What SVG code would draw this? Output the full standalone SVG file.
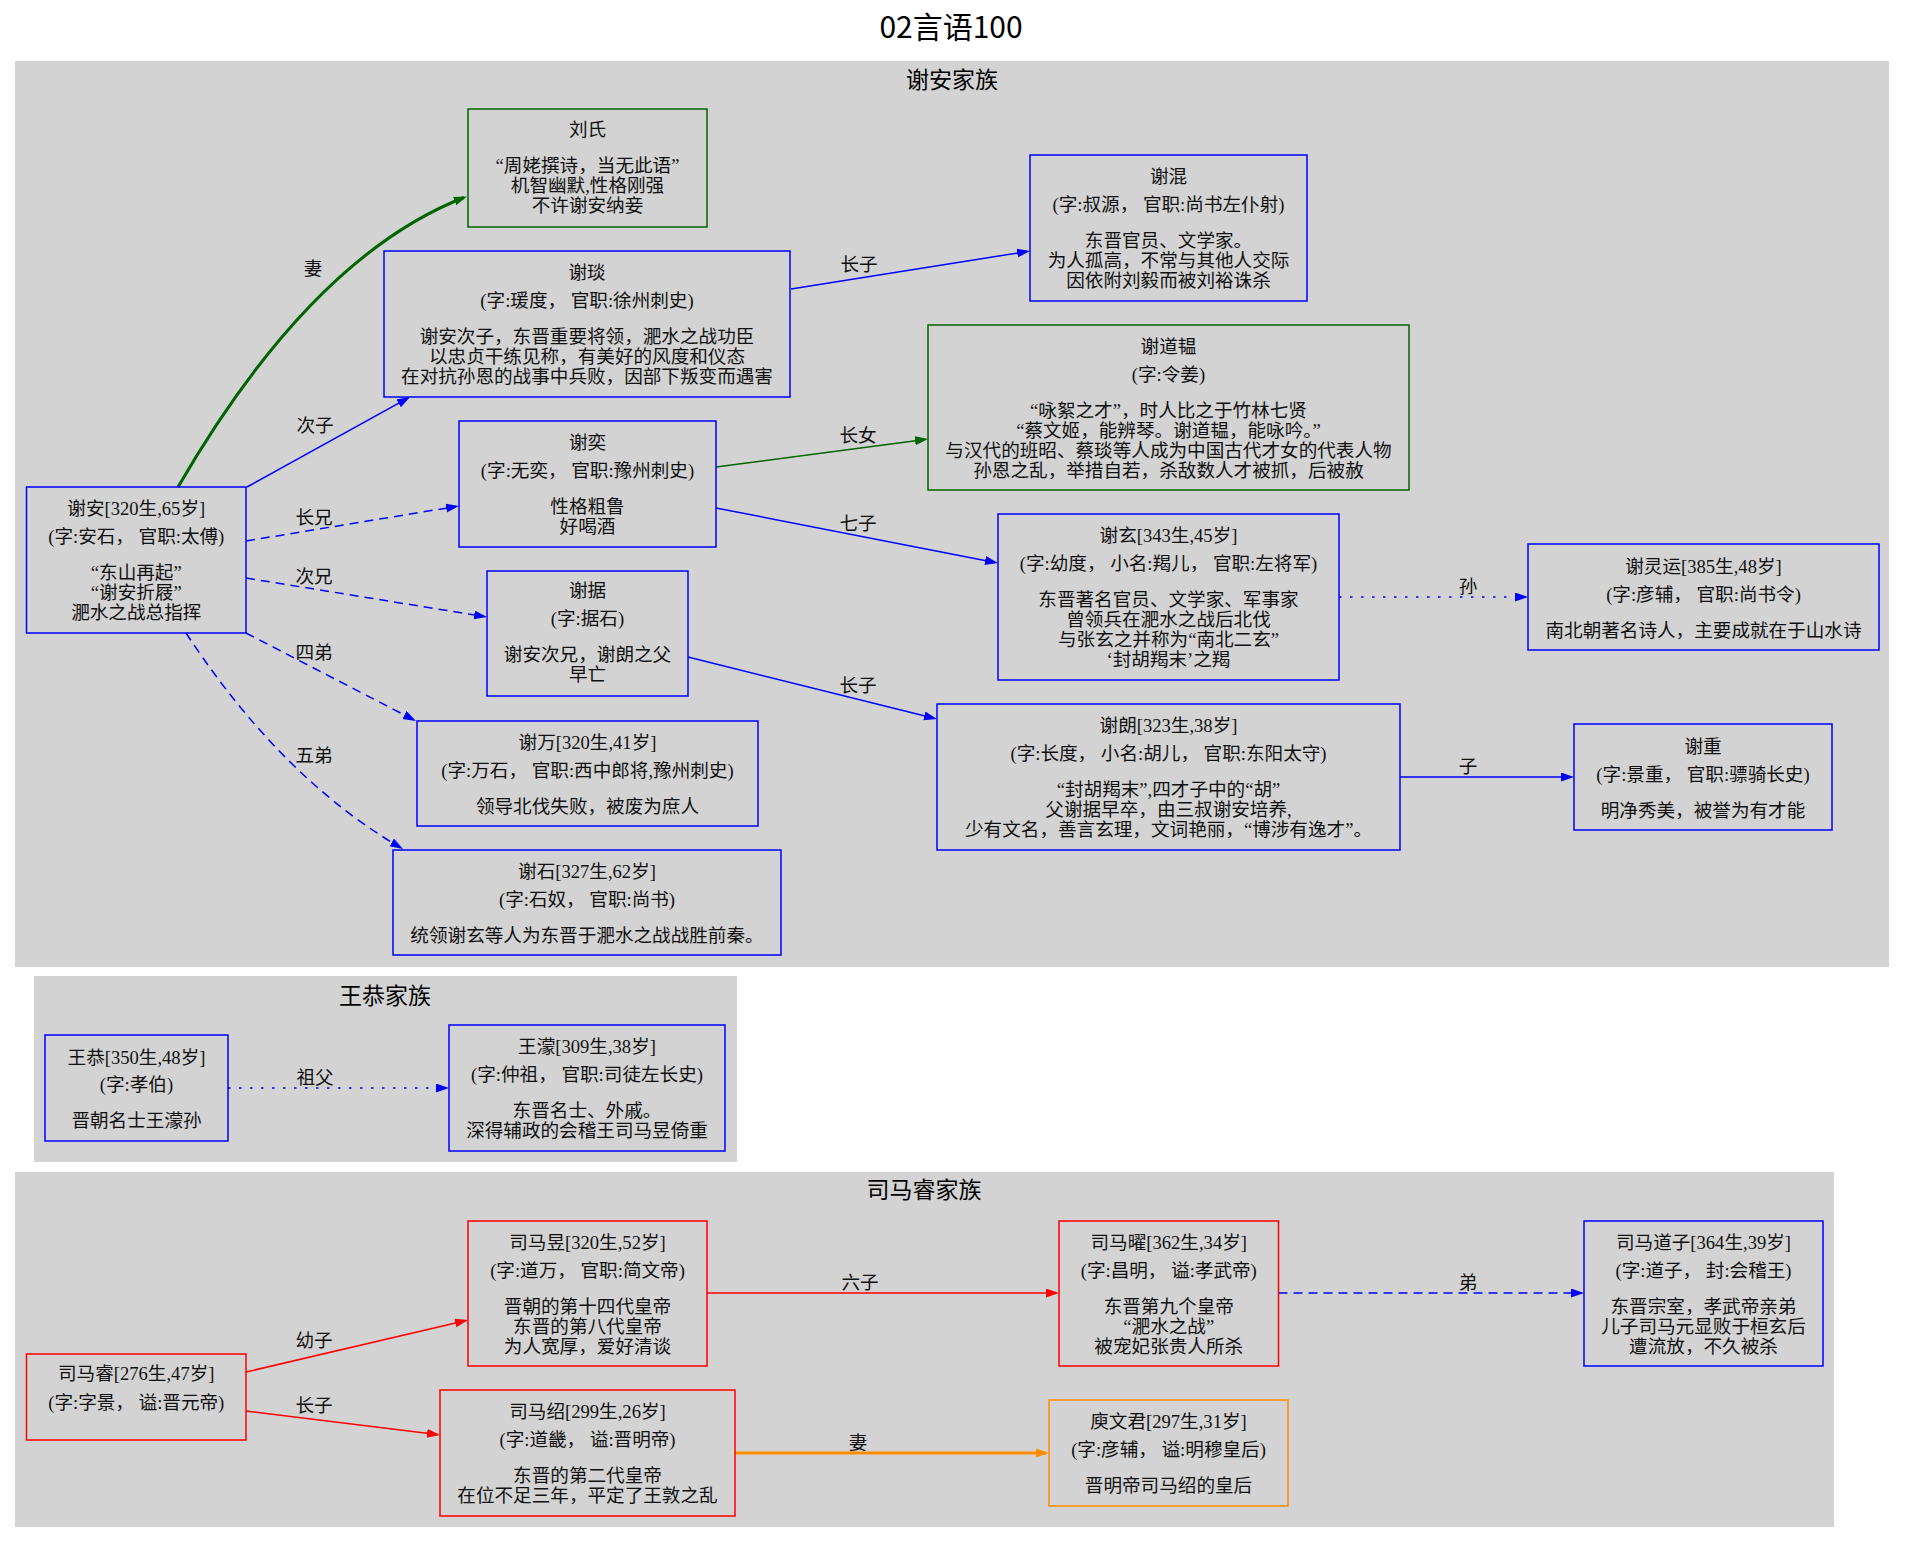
<svg xmlns="http://www.w3.org/2000/svg" width="1905" height="1543" viewBox="0 0 1905 1543">
<style>
.bg{fill:#ffffff}
.cl{fill:#d3d3d3;stroke:none}
.title{font-family:"Noto Sans CJK SC","DejaVu Sans",sans-serif;font-size:30px;fill:#000;text-anchor:middle;dominant-baseline:central}
.clt{font-family:"Noto Sans CJK SC","DejaVu Sans",sans-serif;font-size:23px;fill:#000;text-anchor:middle;dominant-baseline:central}
.n{fill:none;stroke-width:1.5}
.nb{stroke:#0000ff}.ng{stroke:#006400}.nr{stroke:#ff0000}.no{stroke:#ff8c00}
.t{font-family:"Liberation Serif","Noto Sans CJK SC",serif;font-size:18.6px;fill:#111;text-anchor:middle;dominant-baseline:central}
.e{fill:none;stroke-width:1.5}
.eb{stroke:#0000ff}.eg{stroke:#006400}.er{stroke:#ff0000}.eo{stroke:#ff8c00}
.thick{stroke-width:3}
.dash{stroke-dasharray:9,6}
.dot{stroke-dasharray:2.5,8.5}
.lbl{font-family:"Liberation Serif","Noto Sans CJK SC",serif;font-size:18.6px;fill:#111;text-anchor:middle;dominant-baseline:central}
</style>
<defs>
<marker id="ab" markerUnits="userSpaceOnUse" markerWidth="14" markerHeight="10" refX="10" refY="4.5" orient="auto"><path d="M0,0 L13,4.5 L0,9 z" fill="#0000ff"/></marker>
<marker id="ag" markerUnits="userSpaceOnUse" markerWidth="14" markerHeight="10" refX="10" refY="4.5" orient="auto"><path d="M0,0 L13,4.5 L0,9 z" fill="#006400"/></marker>
<marker id="ar" markerUnits="userSpaceOnUse" markerWidth="14" markerHeight="10" refX="10" refY="4.5" orient="auto"><path d="M0,0 L13,4.5 L0,9 z" fill="#ff0000"/></marker>
<marker id="ao" markerUnits="userSpaceOnUse" markerWidth="14" markerHeight="10" refX="10" refY="4.5" orient="auto"><path d="M0,0 L13,4.5 L0,9 z" fill="#ff8c00"/></marker>
</defs>
<rect class="bg" x="0" y="0" width="1905" height="1543"/>
<text class="title" x="951" y="25">02言语100</text>

<g id="cluster_xie">
<rect class="cl" x="15" y="61" width="1874" height="906"/>
<text class="clt" x="952" y="78">谢安家族</text>
</g>
<g id="cluster_wang">
<rect class="cl" x="34" y="976" width="703" height="186"/>
<text class="clt" x="385" y="994">王恭家族</text>
</g>
<g id="cluster_sima">
<rect class="cl" x="15" y="1172" width="1819" height="355"/>
<text class="clt" x="924" y="1188">司马睿家族</text>
</g>

<g id="edges">
<path class="e eg thick" d="M178,487 C240,380 335,248 464,197.5" marker-end="url(#ag)"/>
<text class="lbl" x="313" y="268">妻</text>
<path class="e eb" d="M247,487 L407.4,398.4" marker-end="url(#ab)"/>
<text class="lbl" x="315" y="425">次子</text>
<path class="e eb dash" d="M246,541 L456,506.5" marker-end="url(#ab)"/>
<text class="lbl" x="314" y="517">长兄</text>
<path class="e eb dash" d="M246,578 L484,616.5" marker-end="url(#ab)"/>
<text class="lbl" x="314" y="576">次兄</text>
<path class="e eb dash" d="M246,633 L413.3,719.6" marker-end="url(#ab)"/>
<text class="lbl" x="314" y="652">四弟</text>
<path class="e eb dash" d="M186,633 C230,700 300,789 400.4,847.5" marker-end="url(#ab)"/>
<text class="lbl" x="314" y="755">五弟</text>
<path class="e eb" d="M791,289 L1027,251.5" marker-end="url(#ab)"/>
<text class="lbl" x="859" y="264">长子</text>
<path class="e eg" d="M716,467 L925,439.4" marker-end="url(#ag)"/>
<text class="lbl" x="858" y="435">长女</text>
<path class="e eb" d="M716,508 L995,562.4" marker-end="url(#ab)"/>
<text class="lbl" x="858" y="523">七子</text>
<path class="e eb" d="M688,657 L934.1,718.3" marker-end="url(#ab)"/>
<text class="lbl" x="858" y="685">长子</text>
<path class="e eb dot" d="M1339,597 L1525,597" marker-end="url(#ab)"/>
<text class="lbl" x="1468" y="586">孙</text>
<path class="e eb" d="M1400,777 L1571,777" marker-end="url(#ab)"/>
<text class="lbl" x="1468" y="766">子</text>
<path class="e eb dot" d="M228,1088 L446,1088" marker-end="url(#ab)"/>
<text class="lbl" x="315" y="1077">祖父</text>
<path class="e er" d="M246,1372 L465.1,1320.7" marker-end="url(#ar)"/>
<text class="lbl" x="314" y="1340">幼子</text>
<path class="e er" d="M246,1411 L437,1434.6" marker-end="url(#ar)"/>
<text class="lbl" x="314" y="1405">长子</text>
<path class="e er" d="M707,1293 L1056,1293" marker-end="url(#ar)"/>
<text class="lbl" x="860" y="1282">六子</text>
<path class="e eb dash" d="M1278.5,1293 L1581,1293" marker-end="url(#ab)"/>
<text class="lbl" x="1468" y="1282">弟</text>
<path class="e eo thick" d="M735,1453 L1046,1453" marker-end="url(#ao)"/>
<text class="lbl" x="858" y="1442">妻</text>
</g>

<g id="xiean">
<rect class="n nb" x="26.5" y="487" width="219.5" height="146"/>
<text class="t"><tspan x="136.25" y="508">谢安[320生,65岁]</tspan><tspan x="136.25" y="536">(字:安石， 官职:太傅)</tspan><tspan x="136.25" y="572">“东山再起”</tspan><tspan x="136.25" y="592">“谢安折屐”</tspan><tspan x="136.25" y="612">淝水之战总指挥</tspan></text>
</g>
<g id="liushi">
<rect class="n ng" x="468" y="109" width="239" height="118"/>
<text class="t"><tspan x="587.5" y="129">刘氏</tspan><tspan x="587.5" y="165">“周姥撰诗，当无此语”</tspan><tspan x="587.5" y="185">机智幽默,性格刚强</tspan><tspan x="587.5" y="205">不许谢安纳妾</tspan></text>
</g>
<g id="xieyan">
<rect class="n nb" x="384" y="251" width="406" height="146"/>
<text class="t"><tspan x="587" y="272">谢琰</tspan><tspan x="587" y="300">(字:瑗度， 官职:徐州刺史)</tspan><tspan x="587" y="336">谢安次子，东晋重要将领，淝水之战功臣</tspan><tspan x="587" y="356">以忠贞干练见称，有美好的风度和仪态</tspan><tspan x="587" y="376">在对抗孙恩的战事中兵败，因部下叛变而遇害</tspan></text>
</g>
<g id="xieyi">
<rect class="n nb" x="459" y="421" width="257" height="126"/>
<text class="t"><tspan x="587.5" y="442">谢奕</tspan><tspan x="587.5" y="470">(字:无奕， 官职:豫州刺史)</tspan><tspan x="587.5" y="506">性格粗鲁</tspan><tspan x="587.5" y="526">好喝酒</tspan></text>
</g>
<g id="xieju">
<rect class="n nb" x="487" y="571" width="201" height="125"/>
<text class="t"><tspan x="587.5" y="590">谢据</tspan><tspan x="587.5" y="618">(字:据石)</tspan><tspan x="587.5" y="654">谢安次兄，谢朗之父</tspan><tspan x="587.5" y="674">早亡</tspan></text>
</g>
<g id="xiewan">
<rect class="n nb" x="417" y="721" width="341" height="105"/>
<text class="t"><tspan x="587.5" y="742">谢万[320生,41岁]</tspan><tspan x="587.5" y="770">(字:万石， 官职:西中郎将,豫州刺史)</tspan><tspan x="587.5" y="806">领导北伐失败，被废为庶人</tspan></text>
</g>
<g id="xieshi">
<rect class="n nb" x="393" y="850" width="388" height="105"/>
<text class="t"><tspan x="587" y="870.5">谢石[327生,62岁]</tspan><tspan x="587" y="898.5">(字:石奴， 官职:尚书)</tspan><tspan x="587" y="934.5">统领谢玄等人为东晋于淝水之战战胜前秦。</tspan></text>
</g>
<g id="xiehun">
<rect class="n nb" x="1030" y="155" width="277" height="146"/>
<text class="t"><tspan x="1168.5" y="176">谢混</tspan><tspan x="1168.5" y="204">(字:叔源， 官职:尚书左仆射)</tspan><tspan x="1168.5" y="240">东晋官员、文学家。</tspan><tspan x="1168.5" y="260">为人孤高，不常与其他人交际</tspan><tspan x="1168.5" y="280">因依附刘毅而被刘裕诛杀</tspan></text>
</g>
<g id="xiedaoyun">
<rect class="n ng" x="928" y="325" width="481" height="165"/>
<text class="t"><tspan x="1168.5" y="345.5">谢道韫</tspan><tspan x="1168.5" y="373.5">(字:令姜)</tspan><tspan x="1168.5" y="409.5">“咏絮之才”，时人比之于竹林七贤</tspan><tspan x="1168.5" y="429.5">“蔡文姬，能辨琴。谢道韫，能咏吟。”</tspan><tspan x="1168.5" y="449.5">与汉代的班昭、蔡琰等人成为中国古代才女的代表人物</tspan><tspan x="1168.5" y="469.5">孙恩之乱，举措自若，杀敌数人才被抓，后被赦</tspan></text>
</g>
<g id="xiexuan">
<rect class="n nb" x="998" y="514" width="341" height="166"/>
<text class="t"><tspan x="1168.5" y="535">谢玄[343生,45岁]</tspan><tspan x="1168.5" y="563">(字:幼度， 小名:羯儿， 官职:左将军)</tspan><tspan x="1168.5" y="599">东晋著名官员、文学家、军事家</tspan><tspan x="1168.5" y="619">曾领兵在淝水之战后北伐</tspan><tspan x="1168.5" y="639">与张玄之并称为“南北二玄”</tspan><tspan x="1168.5" y="659">‘封胡羯末’之羯</tspan></text>
</g>
<g id="xielingyun">
<rect class="n nb" x="1528" y="544" width="351" height="106"/>
<text class="t"><tspan x="1703.5" y="565.5">谢灵运[385生,48岁]</tspan><tspan x="1703.5" y="593.5">(字:彦辅， 官职:尚书令)</tspan><tspan x="1703.5" y="629.5">南北朝著名诗人，主要成就在于山水诗</tspan></text>
</g>
<g id="xielang">
<rect class="n nb" x="937" y="704" width="463" height="146"/>
<text class="t"><tspan x="1168.5" y="725">谢朗[323生,38岁]</tspan><tspan x="1168.5" y="753">(字:长度， 小名:胡儿， 官职:东阳太守)</tspan><tspan x="1168.5" y="789">“封胡羯末”,四才子中的“胡”</tspan><tspan x="1168.5" y="809">父谢据早卒，由三叔谢安培养,</tspan><tspan x="1168.5" y="829">少有文名，善言玄理，文词艳丽，“博涉有逸才”。</tspan></text>
</g>
<g id="xiezhong">
<rect class="n nb" x="1574" y="724" width="258" height="106"/>
<text class="t"><tspan x="1703" y="745.5">谢重</tspan><tspan x="1703" y="773.5">(字:景重， 官职:骠骑长史)</tspan><tspan x="1703" y="809.5">明净秀美，被誉为有才能</tspan></text>
</g>
<g id="wanggong">
<rect class="n nb" x="45" y="1035" width="183" height="106"/>
<text class="t"><tspan x="136.5" y="1057">王恭[350生,48岁]</tspan><tspan x="136.5" y="1084">(字:孝伯)</tspan><tspan x="136.5" y="1120">晋朝名士王濛孙</tspan></text>
</g>
<g id="wangmeng">
<rect class="n nb" x="449" y="1025" width="276" height="126"/>
<text class="t"><tspan x="587" y="1046">王濛[309生,38岁]</tspan><tspan x="587" y="1074">(字:仲祖， 官职:司徒左长史)</tspan><tspan x="587" y="1110">东晋名士、外戚。</tspan><tspan x="587" y="1130">深得辅政的会稽王司马昱倚重</tspan></text>
</g>
<g id="simarui">
<rect class="n nr" x="26.5" y="1354" width="219.5" height="86"/>
<text class="t"><tspan x="136.25" y="1373">司马睿[276生,47岁]</tspan><tspan x="136.25" y="1402">(字:字景， 谥:晋元帝)</tspan></text>
</g>
<g id="simayu">
<rect class="n nr" x="468" y="1221" width="239" height="145"/>
<text class="t"><tspan x="587.5" y="1241.5">司马昱[320生,52岁]</tspan><tspan x="587.5" y="1269.5">(字:道万， 官职:简文帝)</tspan><tspan x="587.5" y="1305.5">晋朝的第十四代皇帝</tspan><tspan x="587.5" y="1325.5">东晋的第八代皇帝</tspan><tspan x="587.5" y="1345.5">为人宽厚，爱好清谈</tspan></text>
</g>
<g id="simashao">
<rect class="n nr" x="440" y="1390" width="295" height="126"/>
<text class="t"><tspan x="587.5" y="1411">司马绍[299生,26岁]</tspan><tspan x="587.5" y="1439">(字:道畿， 谥:晋明帝)</tspan><tspan x="587.5" y="1475">东晋的第二代皇帝</tspan><tspan x="587.5" y="1495">在位不足三年，平定了王敦之乱</tspan></text>
</g>
<g id="simayao">
<rect class="n nr" x="1059" y="1221" width="219.5" height="145"/>
<text class="t"><tspan x="1168.75" y="1241.5">司马曜[362生,34岁]</tspan><tspan x="1168.75" y="1269.5">(字:昌明， 谥:孝武帝)</tspan><tspan x="1168.75" y="1305.5">东晋第九个皇帝</tspan><tspan x="1168.75" y="1325.5">“淝水之战”</tspan><tspan x="1168.75" y="1345.5">被宠妃张贵人所杀</tspan></text>
</g>
<g id="simadaozi">
<rect class="n nb" x="1584" y="1221" width="239" height="145"/>
<text class="t"><tspan x="1703.5" y="1241.5">司马道子[364生,39岁]</tspan><tspan x="1703.5" y="1269.5">(字:道子， 封:会稽王)</tspan><tspan x="1703.5" y="1305.5">东晋宗室，孝武帝亲弟</tspan><tspan x="1703.5" y="1325.5">儿子司马元显败于桓玄后</tspan><tspan x="1703.5" y="1345.5">遭流放，不久被杀</tspan></text>
</g>
<g id="yuwenjun">
<rect class="n no" x="1049" y="1400" width="239" height="106"/>
<text class="t"><tspan x="1168.5" y="1421">庾文君[297生,31岁]</tspan><tspan x="1168.5" y="1449">(字:彦辅， 谥:明穆皇后)</tspan><tspan x="1168.5" y="1485">晋明帝司马绍的皇后</tspan></text>
</g>
</svg>
